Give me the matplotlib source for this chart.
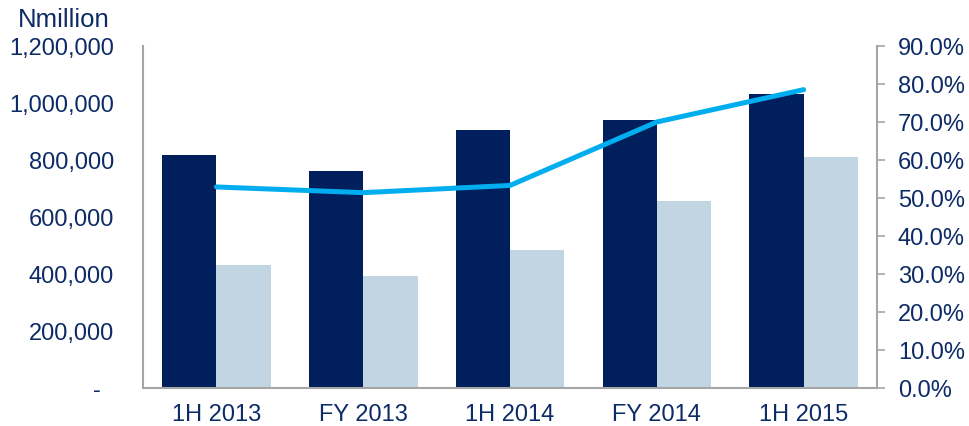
import matplotlib
matplotlib.use("Agg")
import matplotlib.pyplot as plt
import numpy as np
from matplotlib.ticker import FuncFormatter, MultipleLocator

categories = ["1H 2013", "FY 2013", "1H 2014", "FY 2014", "1H 2015"]
series_dark = [816000, 760000, 903700, 941100, 1029800]
series_light = [431900, 391200, 483400, 655000, 811600]
ratio_pct = [52.9, 51.4, 53.3, 70.0, 78.5]

plt.rcParams['font.family'] = ['Liberation Sans', 'DejaVu Sans']
TXT = "#0D2B66"
DARK = "#001F5C"
LIGHT = "#C1D6E2"
LINE = "#00AEEF"
GRAY = "#A6A6A6"
FS = 17

fig = plt.figure(figsize=(9.69, 4.27), dpi=100)
ax = fig.add_axes([0.1476, 0.089, 0.7575, 0.801])
x = np.arange(len(categories))
w = 0.37
ax.bar(x - w/2, series_dark, width=w, color=DARK, zorder=2)
ax.bar(x + w/2, series_light, width=w, color=LIGHT, zorder=2)
ax.set_xlim(-0.5, len(categories) - 0.5)
ax.set_ylim(0, 1200000)
ax.yaxis.set_major_locator(MultipleLocator(200000))
ax.yaxis.set_major_formatter(FuncFormatter(lambda v, p: "-\u00a0\u00a0" if v == 0 else f"{int(v):,}"))
ax.set_xticks(x)
ax.set_xticklabels(categories)
for s in ["top", "right"]:
    ax.spines[s].set_visible(False)
ax.spines["left"].set_color(GRAY)
ax.spines["bottom"].set_color(GRAY)
ax.spines["left"].set_linewidth(1.5)
ax.spines["bottom"].set_linewidth(1.5)
ax.tick_params(axis="y", length=0, labelsize=FS, labelcolor=TXT, pad=21)
ax.tick_params(axis="x", length=0, labelsize=FS, labelcolor=TXT, pad=11)

ax2 = ax.twinx()
ax2.plot(x, ratio_pct, color=LINE, linewidth=3.6, solid_capstyle="round", zorder=3)
ax2.set_ylim(0, 90)
ax2.yaxis.set_major_locator(MultipleLocator(10))
ax2.yaxis.set_major_formatter(FuncFormatter(lambda v, p: f"{v:.1f}%"))
for s in ["top", "left", "bottom"]:
    ax2.spines[s].set_visible(False)
ax2.spines["right"].set_color(GRAY)
ax2.spines["right"].set_linewidth(1.5)
ax2.tick_params(axis="y", length=6, width=1.2, color=GRAY, labelsize=FS, labelcolor=TXT, pad=9)

fig.text(0.066, 0.952, "Nmillion", fontsize=18.5, color=TXT, ha="center", va="center")

fig.savefig("out.png", dpi=100)
